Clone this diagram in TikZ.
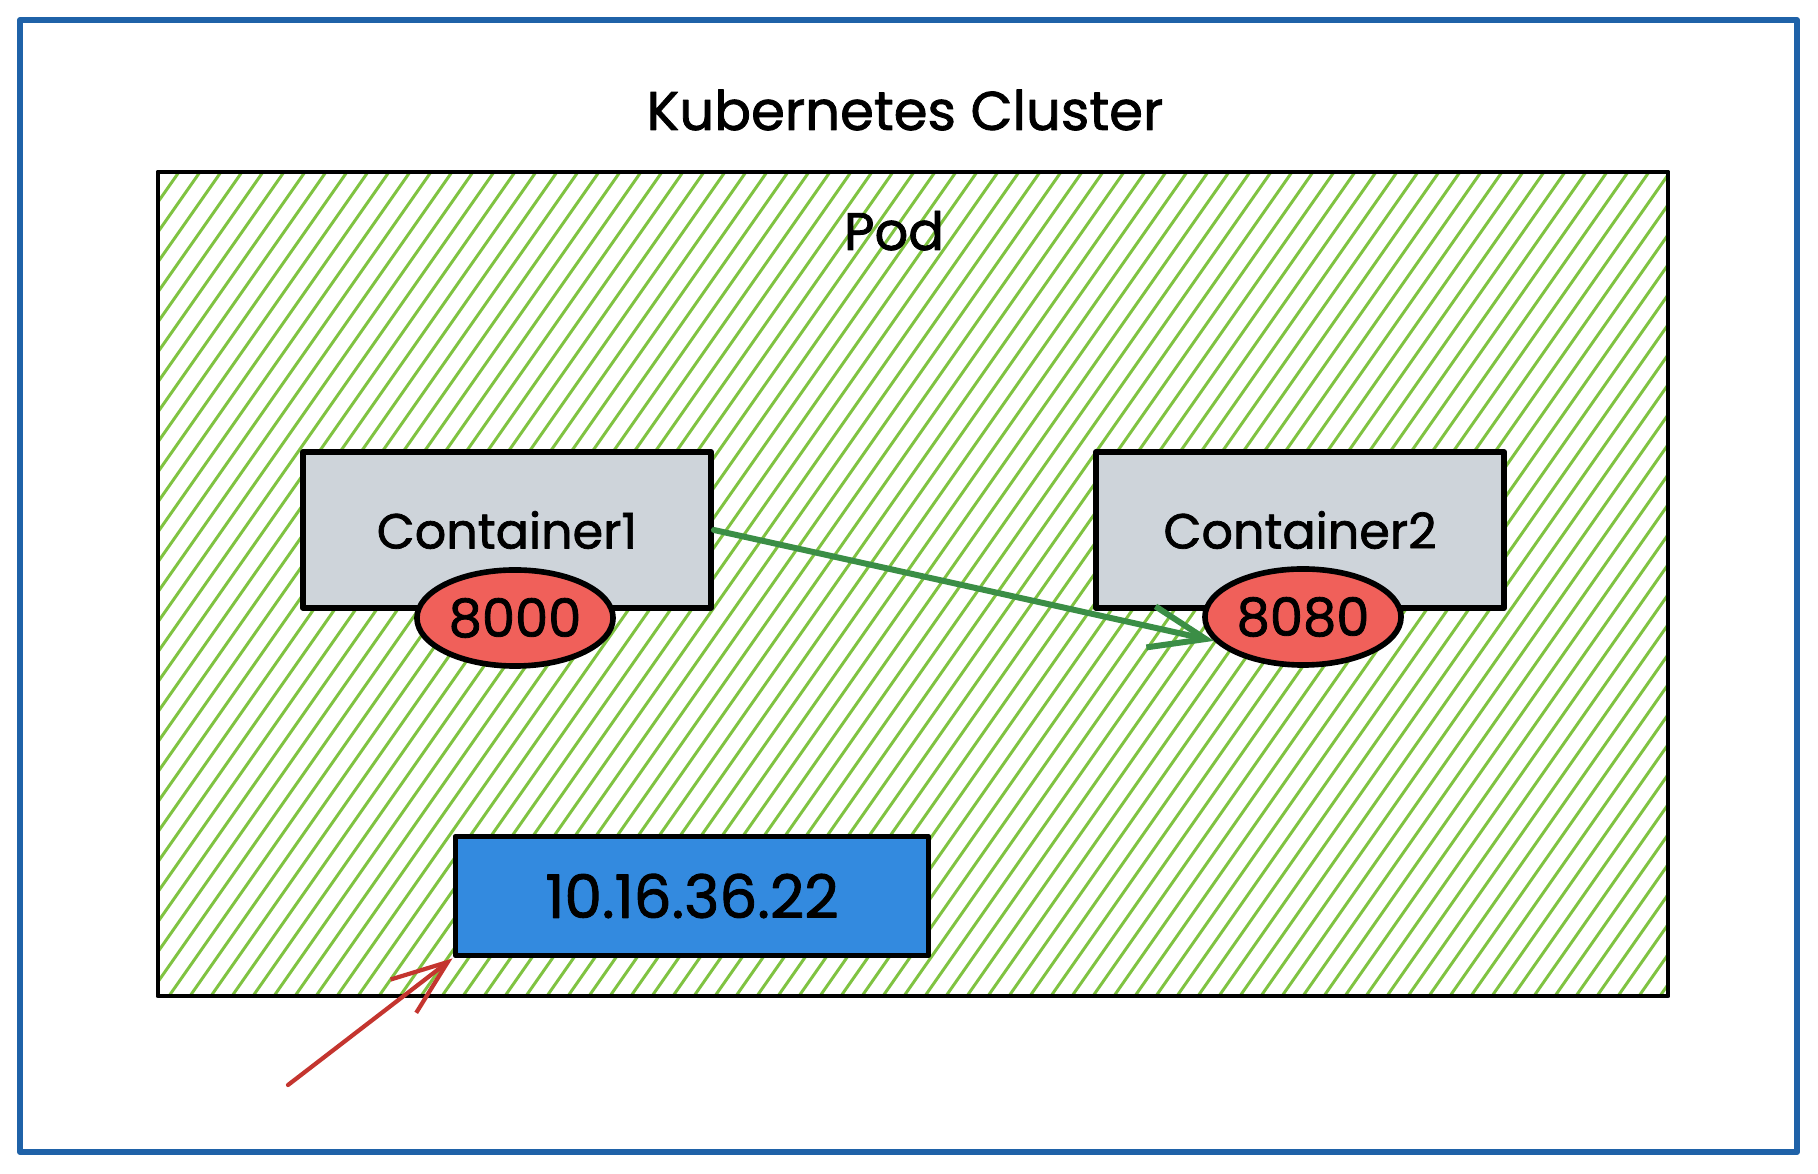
\documentclass[tikz,border=0pt]{standalone}
\usepackage{fontspec}
\setmainfont{Poppins}[BoldFont={Poppins},BoldFeatures={FakeBold=1.5}]
\usepackage{tikz}
\tikzset{>=latex}
\usetikzlibrary{shapes.geometric,arrows.meta}

\definecolor{frameblue}{HTML}{1F62A8}
\definecolor{hatchgreen}{HTML}{80C342}
\definecolor{boxgray}{HTML}{CED4DA}
\definecolor{portred}{HTML}{F0605A}
\definecolor{ipblue}{HTML}{338ADF}
\definecolor{flowgreen}{HTML}{3B8E46}
\definecolor{inred}{HTML}{C4352F}

\begin{document}
\begin{tikzpicture}[line cap=round,line join=round,x=0.01cm,y=-0.01cm,
	box/.style={draw=black,line width=1.6pt,fill=boxgray,minimum width=4.08cm,minimum height=1.56cm,inner sep=0pt,font=\fontsize{14}{16}\selectfont\bfseries},
	port/.style={ellipse,draw=black,line width=1.6pt,fill=portred,minimum width=1.96cm,minimum height=0.96cm,inner sep=0pt,font=\fontsize{15}{17}\selectfont\bfseries},
	hatch/.style={color=hatchgreen,line width=0.85pt},
	barb/.style={-{Straight Barb[length=0.56cm,width=0.42cm]}}]
	\useasboundingbox (0,0) rectangle (1818,1174);
	\draw[color=frameblue,line width=1.7pt] (20,20) rectangle (1797,1152);
	\node (title) [anchor=base,font=\fontsize{15.5}{18}\selectfont\bfseries] at (905,130) {Kubernetes Cluster};
	% pod area
	\begin{scope}
		\clip (158,172) rectangle (1668,996);
		\foreach \s in {-440,-419,...,1680}
			\draw[hatch] (\s,996) -- ++(577,-824);
	\end{scope}
	\draw[line width=1.4pt] (158,172) rectangle (1668,996);
	\node (pod) [anchor=base,font=\fontsize{15}{18}\selectfont\bfseries] at (894,250) {Pod};
	% containers and ports
	\node (c1) [box] at (507,530) {Container1};
	\node (c2) [box] at (1300,530) {Container2};
	\node (p1) [port] at (515,618) {8000};
	\node (p2) [port] at (1303,617) {8080};
	\node (ip) [box,fill=ipblue,minimum width=4.73cm,minimum height=1.19cm,font=\fontsize{17}{19}\selectfont\bfseries] at (692,896) {10.16.36.22};
	\coordinate (outside) at (288,1085);
	\draw[barb,color=flowgreen,line width=1.7pt] (c1.east) -- (p2.195);
	\draw[barb,color=inred,line width=1.2pt] (outside) -- (ip.south west);
\end{tikzpicture}
\end{document}
